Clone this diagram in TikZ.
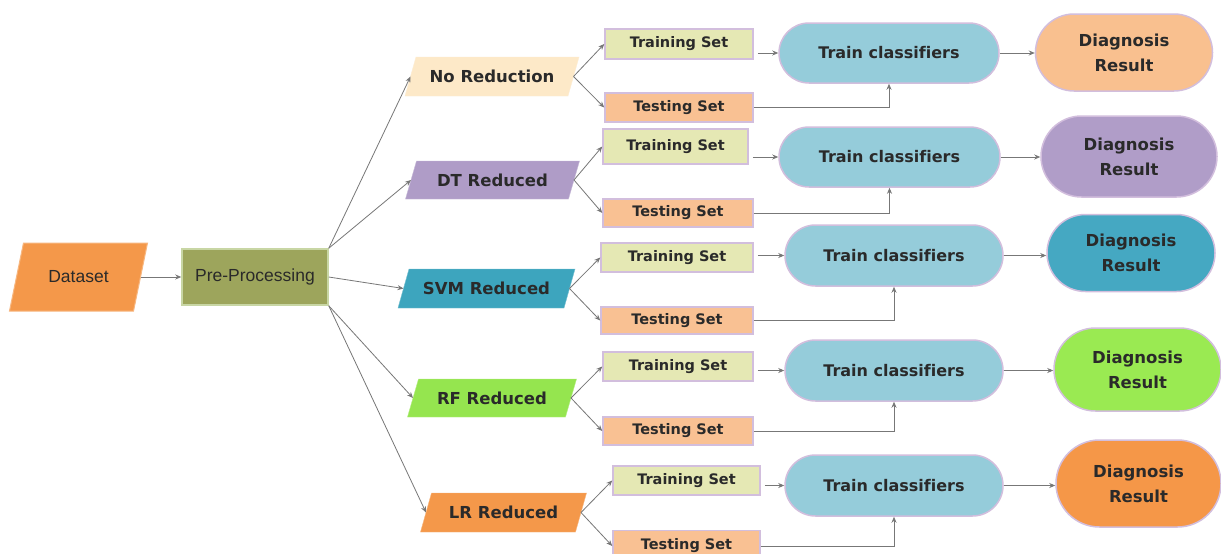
\documentclass[tikz,border=0pt]{standalone}
\usepackage{fontspec}
\setmainfont[Ligatures=NoCommon]{DejaVu Sans}
\newfontfamily\arialf{Liberation Sans}
\usetikzlibrary{shapes.misc,arrows.meta}
\definecolor{txt}{HTML}{2A2A2A}
\definecolor{arr}{HTML}{777777}
\definecolor{dsc}{HTML}{F4984A}
\definecolor{ppc}{HTML}{9DA55C}
\definecolor{ppb}{HTML}{C8D6A4}
\definecolor{nrc}{HTML}{FDE9C8}
\definecolor{dtc}{HTML}{AF9CC7}
\definecolor{svmc}{HTML}{3DA5BE}
\definecolor{rfc}{HTML}{95E54F}
\definecolor{lrc}{HTML}{F4984A}
\definecolor{trfill}{HTML}{E5E8B4}
\definecolor{tsfill}{HTML}{F9C193}
\definecolor{tcfill}{HTML}{95CCDA}
\definecolor{lav}{HTML}{D2BEDD}
\definecolor{dA}{HTML}{F9C08F}
\definecolor{dB}{HTML}{B09DC8}
\definecolor{dC}{HTML}{45A8C2}
\definecolor{dD}{HTML}{9AEA52}
\definecolor{dE}{HTML}{F59748}
% #1 name, #2 x, #3 y, #4 width, #5 height, #6 half slant, #7 style, #8 font, #9 text
\newcommand\paral[9]{%
  \filldraw[#7] ({#2-#4/2+#6},{#3-#5/2}) -- ({#2+#4/2+#6},{#3-#5/2}) -- ({#2+#4/2-#6},{#3+#5/2}) -- ({#2-#4/2-#6},{#3+#5/2}) -- cycle;
  \node[inner sep=0pt, outer sep=0pt, minimum width=#4pt, minimum height=#5pt, text=txt, font=#8] (#1) at (#2,#3) {#9};}
\tikzset{
  conn/.style={draw=arr, line width=0.8pt, -{Stealth[length=6pt,width=5pt]}},
  setbox/.style={draw=lav, line width=1.5pt, inner sep=0pt, font=\fontsize{14.5}{17}\selectfont\bfseries, text=txt},
  trainbox/.style={rounded rectangle, fill=tcfill, draw=lav, line width=1.5pt, inner sep=0pt, font=\fontsize{16}{19}\selectfont\bfseries, text=txt},
  diagbox/.style={rounded rectangle, draw=lav, line width=1.5pt, inner sep=0pt, align=center, font=\fontsize{16.5}{25}\selectfont\bfseries, text=txt},
}
\newcommand\redf{\fontsize{16.5}{20}\selectfont\bfseries}
\begin{document}
\begin{tikzpicture}[x=1pt,y=-1pt]
\useasboundingbox (0,0) rectangle (1221,554);
\fill[white] (0,0) rectangle (1221,554);
% left part
\paral{ds}{78.5}{277}{124}{68}{7}{fill=dsc, draw=dsc!70!white, line width=1pt}{\arialf\fontsize{17.5}{20}\selectfont}{Dataset}
\node[fill=ppc, draw=ppb, line width=1.5pt, minimum width=146pt, minimum height=56pt, inner sep=0pt, text=txt, font=\arialf\fontsize{17.5}{20}\selectfont] (pp) at (255,277) {Pre-Processing};
% reductions
\paral{nr}{492}{76.5}{163}{39}{5.5}{fill=nrc, draw=nrc!80!white}{\redf}{No Reduction}
\paral{dt}{492.5}{180}{163}{38}{5.5}{fill=dtc, draw=dtc!70!white}{\redf}{DT Reduced}
\paral{svm}{486.5}{288.5}{166}{39}{5.5}{fill=svmc, draw=svmc!70!white}{\redf}{SVM Reduced}
\paral{rf}{492}{398}{158}{38}{5.5}{fill=rfc, draw=rfc!70!white}{\redf}{RF Reduced}
\paral{lr}{503.5}{512.5}{155}{39}{5.5}{fill=lrc, draw=lrc!70!white}{\redf}{LR Reduced}
% row 1
\node[setbox, fill=trfill, minimum width=148pt, minimum height=30pt] (tr1) at (679,44) {Training Set};
\node[setbox, fill=tsfill, minimum width=148pt, minimum height=29pt] (ts1) at (679,107.5) {Testing Set};
\node[trainbox, minimum width=220pt, minimum height=60pt] (tc1) at (889,53) {Train classifiers};
\node[diagbox, fill=dA, minimum width=177pt, minimum height=77pt] (dr1) at (1124,52.5) {Diagnosis\\Result};
% row 2
\node[setbox, fill=trfill, minimum width=145pt, minimum height=35pt] (tr2) at (675.5,146.5) {Training Set};
\node[setbox, fill=tsfill, minimum width=150pt, minimum height=28pt] (ts2) at (678,213) {Testing Set};
\node[trainbox, minimum width=221pt, minimum height=60pt] (tc2) at (889.5,157) {Train classifiers};
\node[diagbox, fill=dB, minimum width=176pt, minimum height=81pt] (dr2) at (1129,156.5) {Diagnosis\\Result};
% row 3
\node[setbox, fill=trfill, minimum width=152pt, minimum height=29pt] (tr3) at (677,257.5) {Training Set};
\node[setbox, fill=tsfill, minimum width=152pt, minimum height=27pt] (ts3) at (677,320.5) {Testing Set};
\node[trainbox, minimum width=218pt, minimum height=61pt] (tc3) at (894,255.5) {Train classifiers};
\node[diagbox, fill=dC, minimum width=168pt, minimum height=77pt] (dr3) at (1131,253) {Diagnosis\\Result};
% row 4
\node[setbox, fill=trfill, minimum width=150pt, minimum height=29pt] (tr4) at (678,366.5) {Training Set};
\node[setbox, fill=tsfill, minimum width=150pt, minimum height=28pt] (ts4) at (678,431) {Testing Set};
\node[trainbox, minimum width=218pt, minimum height=61pt] (tc4) at (894,370.5) {Train classifiers};
\node[diagbox, fill=dD, minimum width=167pt, minimum height=83pt] (dr4) at (1137.5,369.5) {Diagnosis\\Result};
% row 5
\node[setbox, fill=trfill, minimum width=147pt, minimum height=29pt] (tr5) at (686.5,480.5) {Training Set};
\node[setbox, fill=tsfill, minimum width=147pt, minimum height=31pt] (ts5) at (686.5,546) {Testing Set};
\node[trainbox, minimum width=218pt, minimum height=61pt] (tc5) at (894,485.5) {Train classifiers};
\node[diagbox, fill=dE, minimum width=165pt, minimum height=87pt] (dr5) at (1138.5,483.5) {Diagnosis\\Result};
% connectors
\draw[conn] (ds.east) -- (pp.west);
\draw[conn] (pp.north east) -- (nr.west);
\draw[conn] (pp.north east) -- (dt.west);
\draw[conn] (pp.east) -- (svm.west);
\draw[conn] (pp.south east) -- (rf.west);
\draw[conn] (pp.south east) -- (lr.west);
\foreach \r/\i in {nr/1,dt/2,svm/3,rf/4,lr/5}{
  \draw[conn] (\r.east) -- (tr\i.west);
  \draw[conn] (\r.east) -- (ts\i.west);
  \draw[conn, shorten <=4pt] (tr\i.east |- tc\i.west) -- (tc\i.west);
  \draw[conn] (ts\i.east) -| (tc\i.south);
  \draw[conn] (tc\i.east) -- (tc\i.east -| dr\i.west);
}
\end{tikzpicture}
\end{document}
